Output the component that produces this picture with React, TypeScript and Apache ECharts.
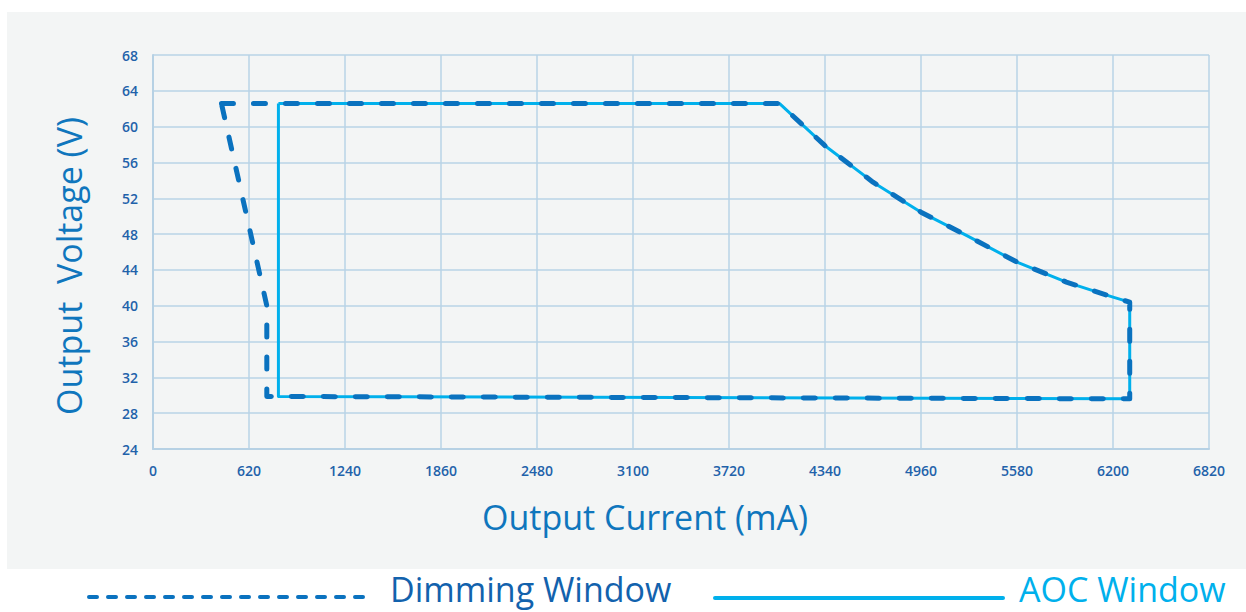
import React, { useEffect, useRef } from "react";
import * as echarts from "echarts";

// X axis (Output Current, mA)
const xMin = 0;
const xMax = 6820;
const xStep = 620;
// Y axis (Output Voltage, V)
const yMin = 24;
const yMax = 68;
const yStep = 4;

// AOC Window (solid)
const aocCurrent = [810, 4047, 4338, 4650, 4960, 5253, 5580, 5899, 6200, 6308, 6308, 810, 810];
const aocVoltage = [62.57, 62.57, 57.9, 53.8, 50.45, 47.85, 44.87, 42.64, 40.96, 40.4, 29.6, 29.87, 62.57];

// Dimming Window (dashed)
const dimCurrent = [442, 4047, 4338, 4650, 4960, 5253, 5580, 5899, 6200, 6308, 6308, 735, 735, 442];
const dimVoltage = [62.57, 62.57, 57.9, 53.8, 50.45, 47.85, 44.87, 42.64, 40.96, 40.4, 29.6, 29.87, 40.0, 62.57];

const seriesNames = ["Dimming Window", "AOC Window"];
const xName = "Output Current (mA)";
const yName = "Output  Voltage (V)";

const DARK = "#0a72bf";
const LIGHT = "#00b0ec";
const FONT = "'Open Sans', 'Noto Sans', sans-serif";

export default function App() {
  const ref = useRef<HTMLDivElement>(null);
  useEffect(() => {
    if (!ref.current) return;
    const chart = echarts.init(ref.current, undefined, { renderer: "svg" });
    const aocData = aocCurrent.map((c, i) => [c, aocVoltage[i]]);
    const dimData = dimCurrent.map((c, i) => [c, dimVoltage[i]]);
    chart.setOption({
      animation: false,
      backgroundColor: "#ffffff",
      textStyle: { fontFamily: FONT },
      grid: { left: 153, right: 37, top: 55, bottom: 163, containLabel: false },
      xAxis: {
        type: "value",
        min: xMin,
        max: xMax,
        interval: xStep,
        name: xName,
        nameLocation: "middle",
        nameGap: 51,
        nameTextStyle: {
          color: "#0f76bd",
          fontSize: 34,
          fontWeight: 500,
          fontFamily: FONT,
          padding: [0, 72, 0, 0],
        },
        axisLine: { show: true, lineStyle: { color: "#b6d1e4", width: 2 } },
        axisTick: { show: false },
        axisLabel: {
          color: "#1f62aa",
          fontSize: 14,
          fontWeight: 600,
          margin: 14,
          fontFamily: FONT,
          formatter: (v: number) => String(v),
        },
        splitLine: { show: true, lineStyle: { color: "#b9d3e6", width: 1.5 } },
      },
      yAxis: {
        type: "value",
        min: yMin,
        max: yMax,
        interval: yStep,
        name: yName,
        nameLocation: "middle",
        nameRotate: 90,
        nameGap: 67,
        nameTextStyle: {
          color: "#0f76bd",
          fontSize: 34,
          fontWeight: 500,
          fontFamily: FONT,
          padding: [0, 28, 0, 0],
        },
        axisLine: { show: true, lineStyle: { color: "#b6d1e4", width: 2 } },
        axisTick: { show: false },
        axisLabel: {
          color: "#1f62aa",
          fontSize: 14,
          fontWeight: 600,
          margin: 15,
          fontFamily: FONT,
          formatter: (v: number) => String(v),
        },
        splitLine: { show: true, lineStyle: { color: "#b9d3e6", width: 1.5 } },
      },
      graphic: [
        {
          type: "rect",
          z: -10,
          silent: true,
          shape: { x: 7, y: 12, width: 1239, height: 557 },
          style: { fill: "#f3f5f5" },
        },
        {
          type: "line",
          silent: true,
          shape: { x1: 89, y1: 597, x2: 373, y2: 597 },
          style: { stroke: DARK, lineWidth: 4, lineDash: [8, 11], lineCap: "round" },
        },
        {
          type: "text",
          silent: true,
          x: 390,
          y: 611,
          style: {
            text: seriesNames[0],
            fill: "#1262ad",
            font: `500 34px ${FONT}`,
            lineHeight: 44,
            align: "left",
            verticalAlign: "bottom",
          },
        },
        {
          type: "line",
          silent: true,
          shape: { x1: 715, y1: 598, x2: 1003, y2: 598 },
          style: { stroke: LIGHT, lineWidth: 4, lineCap: "round" },
        },
        {
          type: "text",
          silent: true,
          x: 1019,
          y: 611,
          style: {
            text: seriesNames[1],
            fill: LIGHT,
            font: `500 34px ${FONT}`,
            lineHeight: 44,
            align: "left",
            verticalAlign: "bottom",
          },
        },
      ],
      series: [
        {
          name: seriesNames[1],
          type: "line",
          data: aocData,
          showSymbol: false,
          symbol: "none",
          z: 2,
          lineStyle: { color: LIGHT, width: 3, join: "round" },
        },
        {
          name: seriesNames[0],
          type: "line",
          data: dimData,
          showSymbol: false,
          symbol: "none",
          z: 3,
          lineStyle: { color: DARK, width: 5, type: [12, 20], cap: "round", join: "round" },
        },
      ],
    });
    return () => chart.dispose();
  }, []);
  return (
    <div
      ref={ref}
      style={{ position: "fixed", left: 0, top: 0, width: 1246, height: 612 }}
    />
  );
}
